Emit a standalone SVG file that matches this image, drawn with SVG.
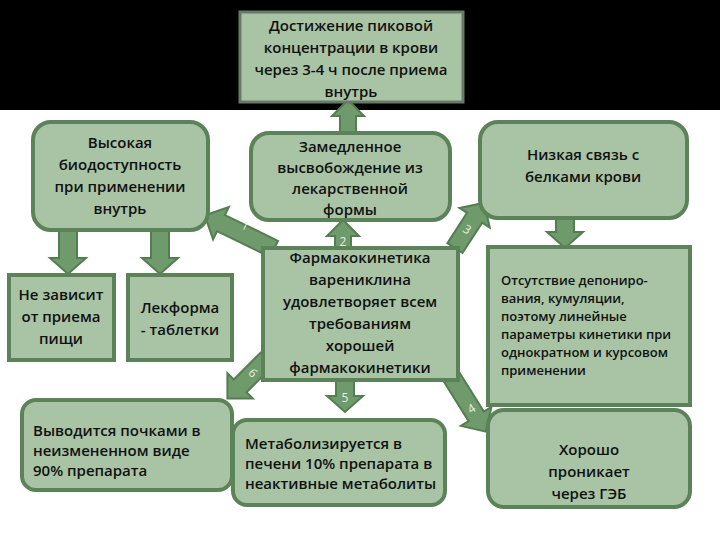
<svg xmlns="http://www.w3.org/2000/svg" width="720" height="540" viewBox="0 0 720 540">
<style>
.b{fill:#a8c4a4;stroke:#5b8258;stroke-width:4}
.a{fill:#6f9a6b;stroke:#557d52;stroke-width:2}
.t{font-family:"Open Sans","Noto Sans",sans-serif;font-size:15px;font-weight:600;fill:#111;text-anchor:middle}
.l{text-anchor:start}
.s{font-size:13px}
.n{font-family:"Open Sans",sans-serif;font-size:12px;fill:#e8f0e6;text-anchor:middle}
</style>
<rect x="0" y="0" width="720" height="540" fill="#fff"/>
<rect x="0" y="0" width="720" height="110" fill="#000"/>
<g id="connectors">
<g transform="translate(348,134) rotate(-90)"><polygon class="a" points="0,-8 18,-8 18,-16 34,0 18,16 18,8 0,8"/></g>
<g transform="translate(68,230) rotate(90)"><polygon class="a" points="0,-9 28,-9 28,-18 44,0 28,18 28,9 0,9"/></g>
<g transform="translate(160,230) rotate(90)"><polygon class="a" points="0,-9 28,-9 28,-18 44,0 28,18 28,9 0,9"/></g>
<g transform="translate(565,218) rotate(90)"><polygon class="a" points="0,-9 14,-9 14,-18 30,0 14,18 14,9 0,9"/></g>
<g transform="translate(274,249) rotate(206)"><polygon class="a" points="0,-9 59,-9 59,-18 77,0 59,18 59,9 0,9"/><text class="n" x="36" y="-4" transform="rotate(180 36 0)">1</text></g>
<g transform="translate(343,248) rotate(-90)"><polygon class="a" points="0,-8 12,-8 12,-16 28,0 12,16 12,8 0,8"/><text class="n" x="6" y="4" transform="rotate(90 6 0)">2</text></g>
<g transform="translate(455,248) rotate(-57)"><polygon class="a" points="0,-9 36,-9 36,-18 54,0 36,18 36,9 0,9"/><text class="n" x="22" y="4" transform="rotate(90 22 0)">3</text></g>
<g transform="translate(446,368) rotate(58)"><polygon class="a" points="0,-9 57,-9 57,-18 75,0 57,18 57,9 0,9"/><text class="n" x="48" y="4" transform="rotate(-90 48 0)">4</text></g>
<g transform="translate(345,378) rotate(90)"><polygon class="a" points="0,-9 18,-9 18,-18 34,0 18,18 18,9 0,9"/><text class="n" x="20" y="4" transform="rotate(-90 20 0)">5</text></g>
<g transform="translate(267,359) rotate(135)"><polygon class="a" points="0,-9 38,-9 38,-18 56,0 38,18 38,9 0,9"/><text class="n" x="20" y="4" transform="rotate(-90 20 0)">6</text></g>
</g>
<g id="top"><rect x="240" y="12" width="223" height="90" fill="#a8c4a4" stroke="#6a7a68" stroke-width="3"/>
<text class="t" x="351" y="31">Достижение пиковой</text><text class="t" x="351" y="53">концентрации в крови</text><text class="t" x="351" y="75">через 3-4 ч после приема</text><text class="t" x="351" y="97">внутрь</text></g>
<g id="high"><rect class="b" x="33" y="122" width="175" height="108" rx="18"/>
<text class="t" x="120" y="148">Высокая</text><text class="t" x="120" y="170">биодоступность</text><text class="t" x="120" y="192">при применении</text><text class="t" x="120" y="214">внутрь</text></g>
<g id="slow"><rect class="b" x="251" y="133" width="199" height="87" rx="18"/>
<text class="t" x="350" y="152">Замедленное</text><text class="t" x="350" y="173">высвобождение из</text><text class="t" x="350" y="194">лекарственной</text><text class="t" x="350" y="215">формы</text></g>
<g id="low"><rect class="b" x="480" y="122" width="207" height="96" rx="18"/>
<text class="t" x="583" y="160">Низкая связь с</text><text class="t" x="583" y="182">белками крови</text></g>
<g id="food"><rect class="b" x="9" y="275" width="105" height="85"/>
<text class="t" x="61" y="300">Не зависит</text><text class="t" x="61" y="322">от приема</text><text class="t" x="61" y="344">пищи</text></g>
<g id="tab"><rect class="b" x="128" y="275" width="104" height="85"/>
<text class="t" x="180" y="313">Лекформа</text><text class="t" x="180" y="335">- таблетки</text></g>
<g id="center"><rect class="b" x="263" y="248" width="195" height="132"/>
<text class="t" x="360" y="263">Фармакокинетика</text><text class="t" x="360" y="285">варениклина</text><text class="t" x="360" y="307">удовлетворяет всем</text><text class="t" x="360" y="329">требованиям</text><text class="t" x="360" y="351">хорошей</text><text class="t" x="360" y="373">фармакокинетики</text></g>
<g id="nodep"><rect class="b" x="488" y="247" width="202" height="158"/>
<text class="t s l" x="501" y="285">Отсутствие депониро-</text><text class="t s l" x="501" y="303">вания, кумуляции,</text><text class="t s l" x="501" y="321">поэтому линейные</text><text class="t s l" x="501" y="339">параметры кинетики при</text><text class="t s l" x="501" y="357">однократном и курсовом</text><text class="t s l" x="501" y="375">применении</text></g>
<g id="kidney"><rect class="b" x="22" y="400" width="210" height="90" rx="14"/>
<text class="t l" x="33" y="436">Выводится почками в</text><text class="t l" x="33" y="456">неизмененном виде</text><text class="t l" x="33" y="476">90% препарата</text></g>
<g id="liver"><rect class="b" x="233" y="420" width="212" height="85" rx="14"/>
<text class="t l" x="245" y="449">Метаболизируется в</text><text class="t l" x="245" y="469">печени 10% препарата в</text><text class="t l" x="245" y="489">неактивные метаболиты</text></g>
<g id="bbb"><rect class="b" x="488" y="410" width="202" height="97" rx="16"/>
<text class="t" x="589" y="455">Хорошо</text><text class="t" x="589" y="477">проникает</text><text class="t" x="589" y="499">через ГЭБ</text></g>
</svg>
